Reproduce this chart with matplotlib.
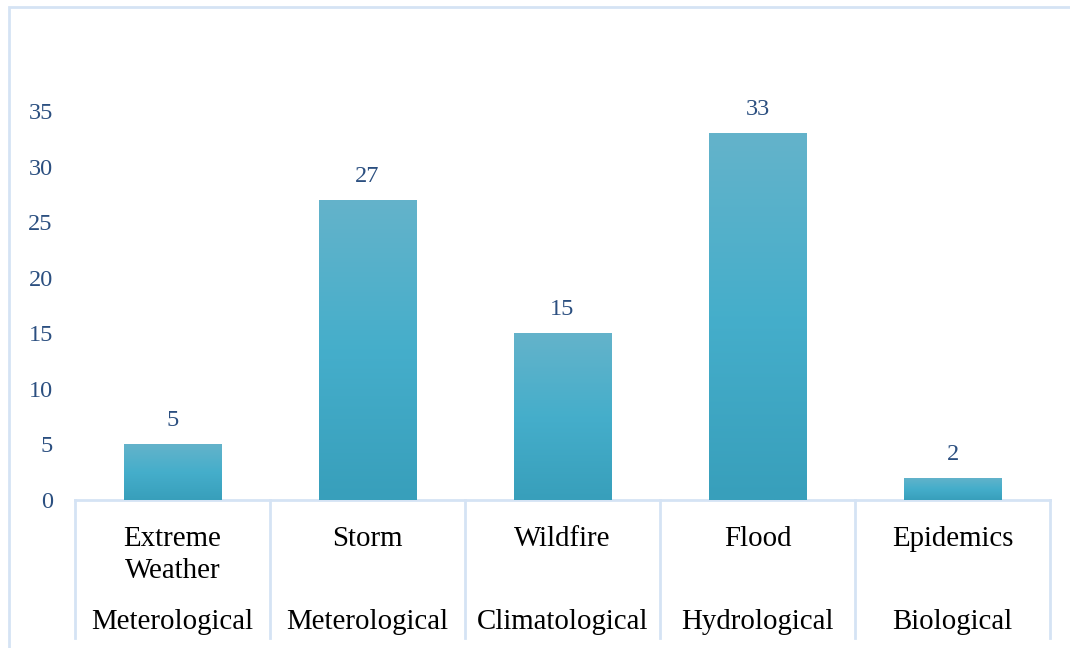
import matplotlib
matplotlib.use("Agg")
import matplotlib.pyplot as plt
import numpy as np
from matplotlib.colors import LinearSegmentedColormap
from matplotlib.patches import Rectangle
import matplotlib.transforms as mtransforms

categories = ["Extreme\nWeather", "Storm", "Wildfire", "Flood", "Epidemics"]
groups = ["Meterological", "Meterological", "Climatological", "Hydrological", "Biological"]
values = [5, 27, 15, 33, 2]
yticks = [0, 5, 10, 15, 20, 25, 30, 35]

W, H = 1070, 648
fig = plt.figure(figsize=(W / 100, H / 100), dpi=100)
fig.patch.set_facecolor("white")

def fx(px):
    return px / W

def fy(py):
    return (H - py) / H

ax = fig.add_axes([fx(75), fy(500), fx(1050) - fx(75), fy(111) - fy(500)])

frame_col = "#D5E3F4"
num_col = "#2B4F80"

cmap = LinearSegmentedColormap.from_list("g", ["#389FBB", "#45AECB", "#64B3CA"])
x = np.arange(len(values))
bars = ax.bar(x, values, width=0.5, color="#45AECB", zorder=2)
grad = np.linspace(0, 1, 256).reshape(-1, 1)
for b in bars:
    x0, y0 = b.get_x(), b.get_y()
    w, h = b.get_width(), b.get_height()
    im = ax.imshow(grad, cmap=cmap, origin="lower", aspect="auto",
                   extent=[x0, x0 + w, y0, y0 + h], zorder=3)
    im.set_clip_path(b)

ax.set_xlim(-0.5, len(values) - 0.5)
ax.set_ylim(0, 35)

for xi, v in zip(x, values):
    ax.annotate(str(v), (xi, v), xytext=(0, 9.5), textcoords="offset points",
                ha="center", va="bottom", fontsize=17.5, color=num_col,
                family="Liberation Serif", annotation_clip=False)

ax.set_yticks(yticks)
ax.set_yticklabels([str(t) for t in yticks], fontsize=17.5, color=num_col,
                   family="Liberation Serif")
ax.tick_params(axis="y", length=0, pad=16)
ax.set_xticks([])
for s in ["left", "right", "top"]:
    ax.spines[s].set_visible(False)
ax.spines["bottom"].set_color(frame_col)
ax.spines["bottom"].set_linewidth(2)

trans = mtransforms.blended_transform_factory(ax.transData, fig.transFigure)
for sx in np.arange(-0.5, len(values), 1.0):
    ax.plot([sx, sx], [fy(500), fy(638)], transform=trans, color=frame_col,
            lw=2, clip_on=False, zorder=1)

for xi, c, g in zip(x, categories, groups):
    ax.text(xi, fy(526), c, transform=trans, ha="center", va="top",
            fontsize=20.8, family="Liberation Serif", color="black",
            linespacing=1.32, clip_on=False)
    ax.text(xi, fy(622), g, transform=trans, ha="center", va="center",
            fontsize=20.8, family="Liberation Serif", color="black", clip_on=False)

# outer chart frame (cut off at right and bottom)
fig.add_artist(Rectangle((fx(9), fy(660)), fx(1090) - fx(9), fy(7) - fy(660),
                         transform=fig.transFigure, fill=False,
                         edgecolor=frame_col, lw=2))

fig.savefig("out.png", dpi=100, facecolor="white")
